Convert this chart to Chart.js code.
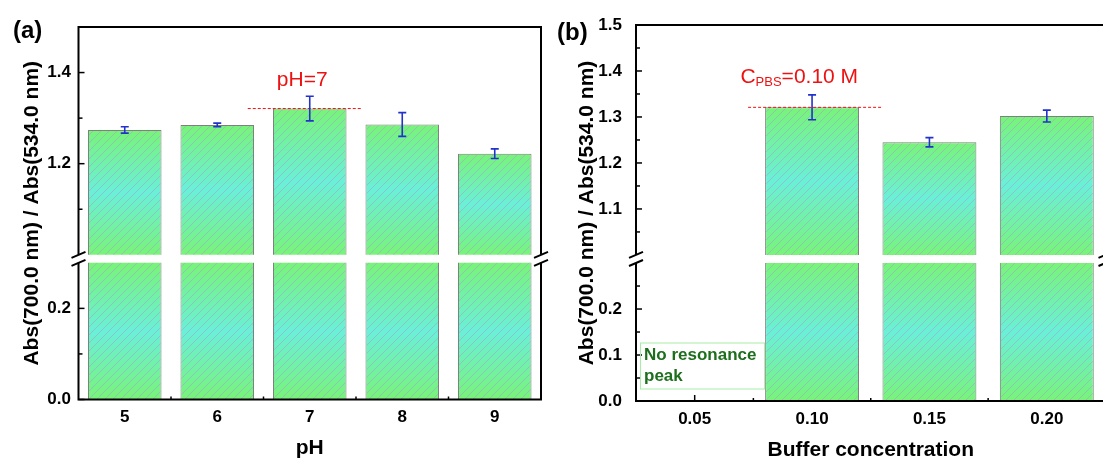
<!DOCTYPE html>
<html><head><meta charset="utf-8">
<script src="https://cdn.jsdelivr.net/npm/chart.js@4.4.0/dist/chart.umd.min.js"></script>
<style>
html,body{margin:0;padding:0;background:#fff;overflow:hidden;width:1103px;height:459px;position:relative;}
#ca{position:absolute;left:0;top:0;}
#cb{position:absolute;left:550px;top:0;}
</style></head><body>
<canvas id="ca" width="551" height="459" style="width:551px;height:459px"></canvas>
<canvas id="cb" width="560" height="459" style="width:560px;height:459px"></canvas>
<script>
// ---------------- data ----------------
const phLabels = ['5', '6', '7', '8', '9'];
const phValues = [1.274, 1.285, 1.321, 1.286, 1.222];
const phErrors = [0.007, 0.004, 0.027, 0.026, 0.0105];

const bufLabels = ['0.05', '0.10', '0.15', '0.20'];
const bufValues = [null, 1.321, 1.245, 1.302];
const bufErrors = [null, 0.027, 0.010, 0.013];

const yTitleText = 'Abs(700.0 nm) / Abs(534.0 nm)';
const xTitleA = 'pH';
const xTitleB = 'Buffer concentration';
const noteA = ['pH=7'];
const noteB = ['C', 'PBS', '=0.10 M'];
const noPeakText = ['No resonance', 'peak'];
const panelA = '(a)';
const panelB = '(b)';

// broken axis segments (value ranges)
const upperSeg = [1.0, 1.5];
const lowerSeg = [0.0, 0.3];
const HALF_GAP = 0.0088;

// ---------------- styles ----------------
const FONT = "'Liberation Sans', Arial, Helvetica, sans-serif";
const GREEN = '#78f478';
const CYAN = '#6af0d8';
const ERR = '#2233cc';
const RED = '#ee1111';
Chart.defaults.font.family = FONT;

function makeHatch() {
  const n = 8;
  const c = document.createElement('canvas');
  c.width = n; c.height = n;
  const g = c.getContext('2d');
  g.strokeStyle = 'rgba(160,160,200,0.55)';
  g.lineWidth = 1;
  g.beginPath();
  g.moveTo(-1, n + 1); g.lineTo(n + 1, -1);
  g.moveTo(-1, 1); g.lineTo(1, -1);
  g.moveTo(n - 1, n + 1); g.lineTo(n + 1, n - 1);
  g.stroke();
  return c;
}
const hatchCanvas = makeHatch();

function barFill(c, seg) {
  const chart = c.chart;
  if (!chart.chartArea || c.type !== 'data' || c.raw == null) return GREEN;
  let top, bot;
  if (seg === 'hi') {
    const s = chart.scales.yHi;
    top = s.getPixelForValue(c.raw); bot = s.getPixelForValue(upperSeg[0]);
  } else {
    const s = chart.scales.yLo;
    top = s.getPixelForValue(lowerSeg[1]); bot = s.getPixelForValue(lowerSeg[0]);
  }
  const g = chart.ctx.createLinearGradient(0, top, 0, bot);
  g.addColorStop(0, GREEN); g.addColorStop(0.5, CYAN); g.addColorStop(1, GREEN);
  return g;
}

function isMult(v, step) { const r = v / step; return Math.abs(r - Math.round(r)) < 1e-6; }

function makePanel(canvas, cfg) {
  const labels = cfg.labels, values = cfg.values, errors = cfg.errors;

  const yCommon = (seg, weight, stackW) => ({
    type: 'linear', position: 'left', stack: 'y', stackWeight: stackW, weight: weight,
    grid: { display: false, drawTicks: false }, border: { display: false },
    ticks: {
      stepSize: cfg.step, autoSkip: false, padding: cfg.tickPad, color: '#000',
      font: { family: FONT, size: 17, weight: 'bold' },
      callback: v => isMult(v, cfg.labelStep) ? Number(v).toFixed(1) : ''
    },
    afterBuildTicks(s) {
      s.ticks = s.ticks.filter(t => isMult(t.value, cfg.step) &&
        t.value >= seg[0] - 1e-9 && t.value <= seg[1] + 1e-9 &&
        !(seg === upperSeg && Math.abs(t.value - seg[0]) < 1e-9) &&
        !(seg === lowerSeg && Math.abs(t.value - seg[1]) < 1e-9));
    },
    afterFit(s) { s.width = cfg.yWidth; }
  });

  const plugin = {
    id: 'brokenPanel',
    beforeDatasetsDraw(chart) {
      const ctx = chart.ctx, ca = chart.chartArea, xs = chart.scales.x;
      ctx.save();
      ctx.strokeStyle = '#000'; ctx.lineWidth = 1.5;
      ['yHi', 'yLo'].forEach(id => {
        const s = chart.scales[id];
        s.ticks.forEach(t => {
          const py = s.getPixelForValue(t.value);
          const len = isMult(t.value, cfg.labelStep) ? 6 : 4;
          ctx.beginPath(); ctx.moveTo(ca.left, py); ctx.lineTo(ca.left + len, py); ctx.stroke();
        });
      });
      for (let i = 0; i < labels.length; i++) {
        const px = xs.getPixelForValue(i);
        ctx.beginPath(); ctx.moveTo(px, ca.bottom); ctx.lineTo(px, ca.bottom - 6); ctx.stroke();
        if (i < labels.length - 1) {
          const pm = (px + xs.getPixelForValue(i + 1)) / 2;
          ctx.beginPath(); ctx.moveTo(pm, ca.bottom); ctx.lineTo(pm, ca.bottom - 3); ctx.stroke();
        }
      }
      ctx.restore();
    },
    beforeDatasetDraw(chart, args) {
      const ctx = chart.ctx, ca = chart.chartArea, meta = args.meta;
      const s = chart.scales[meta.yAxisID];
      let top, bot;
      if (meta.yAxisID === 'yHi') { top = ca.top; bot = s.getPixelForValue(upperSeg[0]); }
      else { top = s.getPixelForValue(lowerSeg[1]); bot = ca.bottom; }
      ctx.save();
      ctx.beginPath(); ctx.rect(ca.left, top, ca.right - ca.left, bot - top); ctx.clip();
    },
    afterDatasetDraw(chart, args) {
      const ctx = chart.ctx, meta = args.meta;
      const pat = ctx.createPattern(hatchCanvas, 'repeat');
      meta.data.forEach((el, i) => {
        if (values[i] == null) return;
        const p = el.getProps(['x', 'y', 'base', 'width'], true);
        const l = p.x - p.width / 2 + 1, r = p.x + p.width / 2 - 1;
        const t = Math.min(p.y, p.base) + 1, b = Math.max(p.y, p.base);
        ctx.fillStyle = pat;
        ctx.fillRect(l, t, r - l, b - t);
      });
      ctx.restore();
    },
    afterDatasetsDraw(chart) {
      const ctx = chart.ctx, xs = chart.scales.x, ys = chart.scales.yHi;
      ctx.save();
      const ni = cfg.noteIndex;
      const cx = xs.getPixelForValue(ni), py = ys.getPixelForValue(values[ni]);
      ctx.strokeStyle = RED; ctx.lineWidth = 1; ctx.setLineDash([3, 2]);
      ctx.beginPath(); ctx.moveTo(cx + cfg.dash[0], py); ctx.lineTo(cx + cfg.dash[1], py); ctx.stroke();
      ctx.setLineDash([]);
      ctx.strokeStyle = ERR; ctx.lineWidth = 1.6;
      values.forEach((v, i) => {
        if (v == null) return;
        const x = xs.getPixelForValue(i);
        const yt = ys.getPixelForValue(v + errors[i]), yb = ys.getPixelForValue(v - errors[i]);
        ctx.beginPath();
        ctx.moveTo(x, yt); ctx.lineTo(x, yb);
        ctx.moveTo(x - 4, yt); ctx.lineTo(x + 4, yt);
        ctx.moveTo(x - 4, yb); ctx.lineTo(x + 4, yb);
        ctx.stroke();
      });
      ctx.fillStyle = RED; ctx.textBaseline = 'middle';
      const tx = cx + cfg.noteOff[0], ty = py + cfg.noteOff[1];
      const note = cfg.note;
      const big = 'normal 21px ' + FONT, small = 'normal 13px ' + FONT;
      if (note.length === 1) {
        ctx.font = big; ctx.textAlign = 'center'; ctx.fillText(note[0], tx, ty);
      } else {
        ctx.font = big; const w0 = ctx.measureText(note[0]).width, w2 = ctx.measureText(note[2]).width;
        ctx.font = small; const w1 = ctx.measureText(note[1]).width;
        let x0 = tx - (w0 + w1 + w2) / 2;
        ctx.textAlign = 'left';
        ctx.font = big; ctx.fillText(note[0], x0, ty);
        ctx.font = small; ctx.fillText(note[1], x0 + w0, ty + 5);
        ctx.font = big; ctx.fillText(note[2], x0 + w0 + w1, ty);
      }
      ctx.restore();
    },
    afterDraw(chart) {
      const ctx = chart.ctx, ca = chart.chartArea;
      const gTop = chart.scales.yHi.getPixelForValue(upperSeg[0]);
      const gBot = chart.scales.yLo.getPixelForValue(lowerSeg[1]);
      ctx.save();
      ctx.strokeStyle = '#000'; ctx.lineWidth = 2;
      ctx.beginPath();
      ctx.moveTo(ca.left - 1, ca.top); ctx.lineTo(ca.right + 1, ca.top);
      ctx.moveTo(ca.left - 1, ca.bottom); ctx.lineTo(ca.right + 1, ca.bottom);
      [ca.left, ca.right].forEach(x => {
        ctx.moveTo(x, ca.top); ctx.lineTo(x, gTop);
        ctx.moveTo(x, gBot); ctx.lineTo(x, ca.bottom);
      });
      ctx.stroke();
      ctx.beginPath();
      [ca.left, ca.right].forEach(x => {
        [gTop, gBot].forEach(y => { ctx.moveTo(x - 7, y + 3); ctx.lineTo(x + 7, y - 3); });
      });
      ctx.stroke();
      ctx.fillStyle = '#000';
      ctx.font = 'bold 21px ' + FONT;
      ctx.textAlign = 'center'; ctx.textBaseline = 'middle';
      ctx.save();
      ctx.translate(cfg.yTitleX, (ca.top + ca.bottom) / 2);
      ctx.rotate(-Math.PI / 2);
      ctx.fillText(yTitleText, 0, 0);
      ctx.restore();
      ctx.font = 'bold 24px ' + FONT;
      ctx.textAlign = 'left';
      ctx.fillText(cfg.panel, cfg.panelPos[0], cfg.panelPos[1]);
      if (cfg.noPeak) {
        const meta = chart.getDatasetMeta(0);
        const el = meta.data[1].getProps(['x', 'width'], true);
        const bl = ca.left + 4, br = el.x - el.width / 2 - 1;
        const bt = ca.bottom - 58.5, bb = ca.bottom - 12.5;
        ctx.strokeStyle = '#a6eea6'; ctx.lineWidth = 1;
        ctx.strokeRect(bl + 0.5, bt + 0.5, br - bl, bb - bt);
        ctx.fillStyle = '#1d6e1d';
        ctx.font = 'bold 17px ' + FONT;
        ctx.fillText(noPeakText[0], bl + 4, bt + 13);
        ctx.fillText(noPeakText[1], bl + 4, bt + 34);
      }
      ctx.restore();
    }
  };

  const dsCommon = {
    grouped: false, barPercentage: 1, categoryPercentage: cfg.catPct,
    borderColor: '#7f7f7f', borderWidth: 1
  };

  return new Chart(canvas, {
    type: 'bar',
    data: {
      labels: labels,
      datasets: [
        Object.assign({ label: 'upper', data: values, yAxisID: 'yHi', backgroundColor: c => barFill(c, 'hi') }, dsCommon),
        Object.assign({ label: 'lower', data: values, yAxisID: 'yLo', backgroundColor: c => barFill(c, 'lo') }, dsCommon)
      ]
    },
    options: {
      responsive: false, animation: false, devicePixelRatio: 1,
      layout: { padding: cfg.padding },
      plugins: { legend: { display: false }, tooltip: { enabled: false } },
      scales: {
        x: {
          type: 'category', offset: true,
          grid: { display: false, drawTicks: false }, border: { display: false },
          ticks: { color: '#000', padding: cfg.xTickPad, autoSkip: false, maxRotation: 0,
            font: { family: FONT, size: 17, weight: 'bold' } },
          title: { display: true, text: cfg.xTitle, color: '#000',
            font: { family: FONT, size: 21, weight: 'bold' }, padding: { top: 0, bottom: cfg.xTitlePad } },
          afterFit(s) { s.height = cfg.xHeight; }
        },
        yLo: Object.assign({ min: lowerSeg[0], max: lowerSeg[1] + HALF_GAP }, yCommon(lowerSeg, 1, lowerSeg[1] - lowerSeg[0] + HALF_GAP)),
        yHi: Object.assign({ min: upperSeg[0] - HALF_GAP, max: upperSeg[1] }, yCommon(upperSeg, 2, upperSeg[1] - upperSeg[0] + HALF_GAP))
      }
    },
    plugins: [plugin]
  });
}

makePanel(document.getElementById('ca'), {
  labels: phLabels, values: phValues, errors: phErrors,
  xTitle: xTitleA, step: 0.1, labelStep: 0.2, tickPad: 7.5,
  yWidth: 78.5, xHeight: 59.5, padding: { top: 27, right: 10, left: 0, bottom: 0 },
  catPct: 0.795, xTickPad: 8, xTitlePad: -2,
  noteIndex: 2, note: noteA, dash: [-62, 52], noteOff: [-7.5, -28],
  yTitleX: 32, panel: panelA, panelPos: [13, 31], noPeak: false
});

makePanel(document.getElementById('cb'), {
  labels: bufLabels, values: bufValues, errors: bufErrors,
  xTitle: xTitleB, step: 0.05, labelStep: 0.1, tickPad: 14,
  yWidth: 86, xHeight: 58, padding: { top: 25, right: 4.5, left: 0, bottom: 0 },
  catPct: 0.80, xTickPad: 8.5, xTitlePad: -4,
  noteIndex: 1, note: noteB, dash: [-64, 70], noteOff: [-12.8, -30],
  yTitleX: 37, panel: panelB, panelPos: [7, 33], noPeak: true
});
</script>
</body></html>
